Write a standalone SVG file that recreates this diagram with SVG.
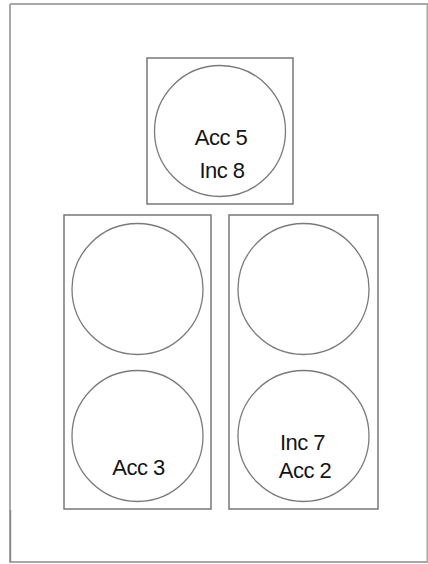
<svg xmlns="http://www.w3.org/2000/svg" width="428" height="564" viewBox="0 0 428 564">
<style>
.frame{fill:none;stroke:#a8a8a8;stroke-width:2}
.box{fill:none;stroke:#6e6e6e;stroke-width:1.4}
.well{fill:#fff;stroke:#7a7a7a;stroke-width:1.3}
.lbl{font-family:"Liberation Sans",Arial,sans-serif;font-size:22px;fill:#141414;text-anchor:middle;letter-spacing:-0.5px}
</style>
<rect x="0" y="0" width="428" height="564" fill="#fff"/>
<g id="frame">
<path class="frame" d="M10,4 H428 M427.5,4 V562 M10,4 V562 H428"/>
<path d="M10.5,510 V562" stroke="#8a8a8a" stroke-width="1.5" fill="none"/>
</g>
<g id="top-plate">
<rect class="box" x="147" y="58" width="146" height="146"/>
<circle class="well" cx="220" cy="131" r="65.5"/>
<text class="lbl" x="221" y="145">Acc 5</text>
<text class="lbl" x="222" y="178">Inc 8</text>
</g>
<g id="left-plate">
<rect class="box" x="64" y="215" width="147" height="294"/>
<circle class="well" cx="137.5" cy="289" r="65.5"/>
<circle class="well" cx="137.5" cy="436" r="65.5"/>
<text class="lbl" x="138.5" y="475">Acc 3</text>
</g>
<g id="right-plate">
<rect class="box" x="229" y="215" width="149" height="294"/>
<circle class="well" cx="303.5" cy="289" r="65.5"/>
<circle class="well" cx="303.5" cy="436" r="65.5"/>
<text class="lbl" x="302.5" y="450">Inc 7</text>
<text class="lbl" x="305" y="478">Acc 2</text>
</g>
<g id="connectors"></g>
</svg>
